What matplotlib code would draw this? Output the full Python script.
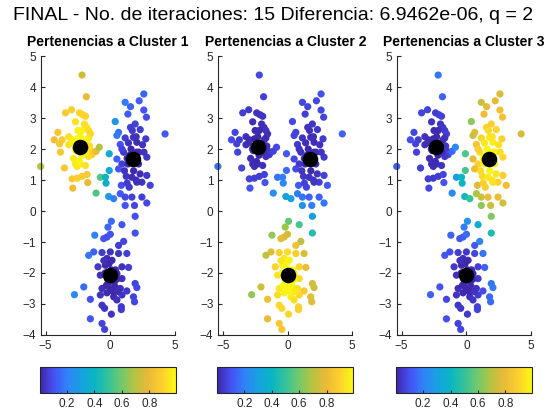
import numpy as np
import matplotlib
matplotlib.use('Agg')
import matplotlib.pyplot as plt
from matplotlib.colors import LinearSegmentedColormap

# Puntos (grupo superior izquierdo)
x_g1 = [-2.18, -1.85, -3.00, -3.46, -2.38, -2.13, -1.92, -2.69, -2.00, -1.82,
        -4.05, -2.18, -1.67, -4.33, -3.72, -3.21, -3.92, -2.95, -3.21, -2.56,
        -1.54, -1.67, -2.64, -3.85, -1.54, -1.41, -1.10, -0.85, -1.67, -2.69,
        -2.56, -2.31, -3.54, -1.92, -2.95, -2.56, -2.18, -1.79, -2.90, -1.74,
        -1.10, -5.38, -0.77, -0.38, -0.33, -2.50, -2.00, -2.30, -2.70, -1.90,
        -2.20, -3.00, -1.80, -2.50, -2.85, -1.60, -2.40]
y_g1 = [4.39, 3.69, 3.27, 3.17, 3.17, 3.11, 3.06, 2.88, 2.81, 2.70,
        2.54, 2.60, 2.60, 2.30, 2.30, 2.40, 2.17, 2.30, 2.14, 2.33,
        2.49, 2.36, 1.95, 1.90, 1.95, 1.82, 1.93, 2.06, 1.76, 1.52,
        1.44, 1.52, 1.39, 1.47, 1.04, 1.06, 1.12, 1.18, 0.74, 0.92,
        0.58, 1.44, 1.09, 1.09, 0.90, 2.10, 2.20, 2.40, 2.00, 1.90,
        1.80, 2.20, 2.30, 2.60, 1.70, 2.10, 1.60]

# Grupo superior derecho
x_g2 = [2.59, 2.23, 1.15, 1.56, 2.59, 1.36, 2.79, 0.38, 1.92, 1.56,
        2.31, 0.64, 0.51, 1.79, 1.15, 2.74, 4.23, 0.77, 2.05, 2.49,
        1.03, -0.08, 2.05, 0.51, 0.90, 1.36, 2.18, 2.82, -0.08, 0.64,
        1.23, 1.67, 2.44, 3.08, 2.82, 0.85, 1.46, 2.05, 0.77, -0.13,
        0.26, 1.15, 1.67, 2.44, 1.15, 1.87, 2.82, 1.92, 1.92, 0.08,
        -0.18, 0.90, 1.50, 1.90, 1.60, 2.20, 1.30, 1.80, 2.00, 1.40,
        2.30, 1.10, 0.90, 1.70, 2.60, 2.00, 1.30]
y_g2 = [3.78, 3.56, 3.51, 3.37, 3.26, 3.13, 3.03, 2.89, 2.81, 2.70,
        2.63, 2.54, 2.44, 2.38, 2.36, 2.33, 2.49, 2.15, 2.22, 2.14,
        1.90, 1.85, 1.90, 1.68, 1.52, 1.52, 1.52, 1.74, 1.31, 1.36,
        1.12, 1.09, 0.93, 0.83, 1.15, 0.83, 0.77, 0.93, 0.56, 0.47,
        0.40, 0.45, 0.45, 0.45, 0.18, 0.18, 0.26, -0.17, -0.71, -0.33,
        -0.52, -0.44, 1.80, 1.60, 2.00, 1.90, 1.70, 1.30, 2.40, 2.20,
        1.20, 1.30, 2.00, 2.60, 1.90, 1.00, 0.90]

# Grupo inferior
x_g3 = [-1.20, -0.51, -0.26, 0.00, 1.03, 0.64, -1.28, -1.67, -0.64, 0.00,
        0.64, 1.28, -0.26, 0.13, -0.95, -0.38, 0.90, 1.41, -0.77, 0.51,
        0.90, -0.64, -0.18, 0.38, 0.77, 1.92, 2.05, -2.05, -2.77, -0.77,
        -0.26, 0.26, 0.90, 1.28, -1.54, 0.51, 1.79, 1.87, -0.64, -0.44,
        0.85, 0.85, 0.08, -1.54, -0.64, -0.44, 0.10, -0.20, 0.30, -0.10,
        0.40, 0.20, -0.30, 0.60, -0.40, 0.00, 0.50, -0.50]
y_g3 = [-0.78, -0.89, -0.84, -0.75, -0.98, -1.11, -1.32, -1.43, -1.34, -1.32,
        -1.37, -1.37, -1.53, -1.59, -1.80, -1.75, -1.80, -1.82, -2.07, -2.02,
        -2.18, -2.50, -2.34, -2.45, -2.50, -2.34, -2.47, -2.45, -2.70, -2.71,
        -2.64, -2.77, -2.71, -2.58, -2.85, -2.87, -2.77, -2.93, -3.04, -3.14,
        -3.09, -3.18, -3.33, -3.48, -3.63, -3.82, -1.90, -2.20, -2.30, -1.70,
        -1.90, -2.60, -2.40, -2.60, -2.00, -2.50, -2.20, -1.60]

# Centros finales (cluster 1, 2, 3)
cx = [-2.31, 0.0, 1.72]
cy = [2.08, -2.08, 1.67]
q = 2
titulo = 'FINAL - No. de iteraciones: 15 Diferencia: 6.9462e-06, q = 2'

# Mapa de colores tipo parula
parula = LinearSegmentedColormap.from_list('parula', [
    (0.2422, 0.1504, 0.6603), (0.2719, 0.3164, 0.9546), (0.1856, 0.5112, 0.9726),
    (0.0895, 0.6328, 0.8842), (0.0348, 0.7109, 0.7670), (0.2010, 0.7638, 0.6044),
    (0.4458, 0.7889, 0.4215), (0.7160, 0.7636, 0.2563), (0.9241, 0.7290, 0.2125),
    (0.9899, 0.8145, 0.1849), (0.9763, 0.9831, 0.0538)])

X = np.array(x_g1 + x_g2 + x_g3)
Y = np.array(y_g1 + y_g2 + y_g3)

# Pertenencias de c-medias difusas a partir de las distancias a los centros
d2 = np.array([(X - cx[k])**2 + (Y - cy[k])**2 for k in range(3)]) + 1e-12
U = 1.0 / np.array([np.sum((d2[k] / d2) ** (1.0 / (q - 1)), axis=0) for k in range(3)])

plt.rcParams['font.family'] = ['Liberation Sans', 'DejaVu Sans']
fig = plt.figure(figsize=(5.47, 4.13), dpi=100)
fig.text(0.5, 0.963, titulo, ha='center', va='center', fontsize=14)

lefts = [0.075, 0.399, 0.726]
for k in range(3):
    ax = fig.add_axes([lefts[k], 0.189, 0.245, 0.675])
    sc = ax.scatter(X, Y, c=U[k], cmap=parula, s=27, linewidths=0,
                    vmin=U[k].min(), vmax=U[k].max(), clip_on=False)
    ax.scatter(cx, cy, c='k', s=125, linewidths=0, zorder=3)
    ax.set_xlim(-5.35, 5)
    ax.set_ylim(-4, 5)
    ax.set_xticks([-5, 0, 5])
    ax.set_yticks(range(-4, 6))
    ax.spines['top'].set_visible(False)
    ax.spines['right'].set_visible(False)
    for s in ['left', 'bottom']:
        ax.spines[s].set_color('0.15')
    ax.tick_params(direction='in', labelsize=8.5, colors='0.15', length=3)
    ax.set_title('Pertenencias a Cluster %d' % (k + 1), fontsize=10,
                 fontweight='bold', pad=7)

    cax = fig.add_axes([lefts[k] - 0.002, 0.048, 0.249, 0.063])
    cb = fig.colorbar(sc, cax=cax, orientation='horizontal')
    cb.set_ticks([0.2, 0.4, 0.6, 0.8])
    cb.outline.set_edgecolor('0.15')
    cax.tick_params(direction='in', labelsize=8.5, colors='0.15', length=2)

fig.savefig('out.png', dpi=100)
